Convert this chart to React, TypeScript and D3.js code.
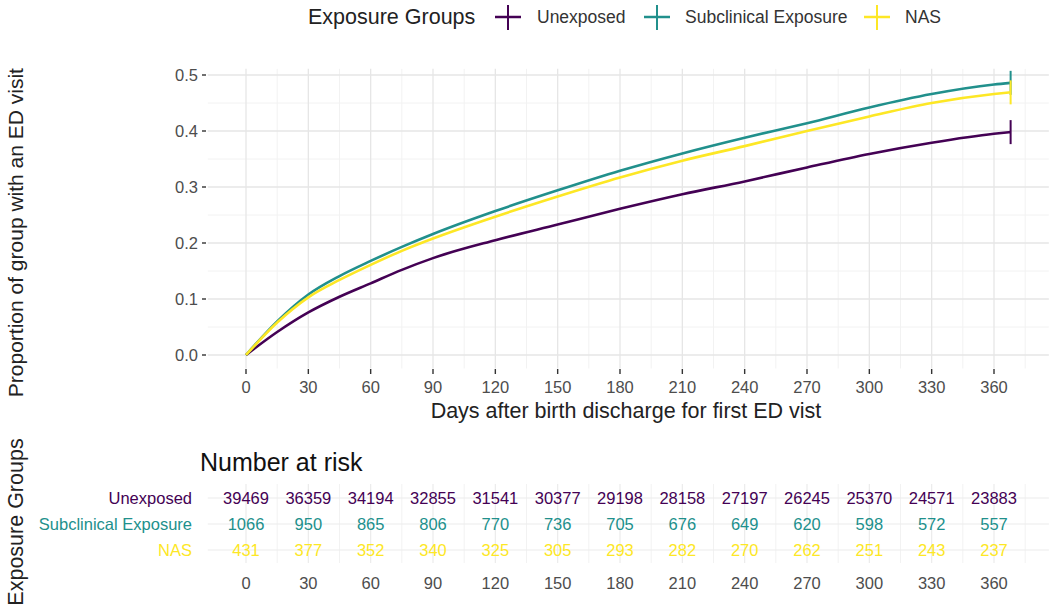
import React from "react";
import * as d3 from "d3";

const days = [0, 15, 30, 45, 60, 75, 90, 120, 150, 180, 210, 240, 270, 300, 330, 360, 368];
const unexposed = [0, 0.041, 0.076, 0.104, 0.128, 0.152, 0.173, 0.205, 0.233, 0.261, 0.287, 0.31, 0.335, 0.359, 0.379, 0.395, 0.398];
const subclinical = [0, 0.06, 0.108, 0.141, 0.168, 0.193, 0.216, 0.257, 0.294, 0.329, 0.36, 0.388, 0.414, 0.442, 0.466, 0.483, 0.486];
const nas = [0, 0.058, 0.103, 0.134, 0.161, 0.186, 0.208, 0.247, 0.283, 0.317, 0.347, 0.373, 0.4, 0.426, 0.45, 0.466, 0.469];

const groups = ["Unexposed", "Subclinical Exposure", "NAS"];
const colors = ["#440154", "#21908C", "#FDE725"];
const series = [unexposed, subclinical, nas];

const riskTicks = [0, 30, 60, 90, 120, 150, 180, 210, 240, 270, 300, 330, 360];
const riskUnexposed = [39469, 36359, 34194, 32855, 31541, 30377, 29198, 28158, 27197, 26245, 25370, 24571, 23883];
const riskSubclinical = [1066, 950, 865, 806, 770, 736, 705, 676, 649, 620, 598, 572, 557];
const riskNas = [431, 377, 352, 340, 325, 305, 293, 282, 270, 262, 251, 243, 237];
const riskRows = [riskUnexposed, riskSubclinical, riskNas];

const yTicks = [0, 0.1, 0.2, 0.3, 0.4, 0.5];
const maxDay = 368;

const FONT = "'Liberation Sans', Arial, Helvetica, sans-serif";

export default function App() {
  const x = d3.scaleLinear().domain([0, 360]).range([246, 994]);
  const y = d3.scaleLinear().domain([0, 0.5]).range([355, 75]);
  const left = x(-0.05 * maxDay);
  const right = x(maxDay * 1.05);
  const top = y(0.511);
  const bottom = y(-0.024);

  const minorX = d3.range(15, 390, 30);
  const minorY = [0.05, 0.15, 0.25, 0.35, 0.45];

  const line = d3
    .line<number>()
    .x((_, i) => x(days[i]))
    .y((d) => y(d))
    .curve(d3.curveMonotoneX);

  // risk table rows
  const rowY = d3.scalePoint<string>().domain(groups).range([498, 550]);
  const tTop = 484;
  const tBottom = 563;

  const legendItems = [
    { x: 508, tx: 537 },
    { x: 657, tx: 685 },
    { x: 877, tx: 905 },
  ];

  return (
    <svg
      width={1050}
      height={613}
      style={{ position: "absolute", left: 0, top: 0, background: "#fff" }}
      fontFamily={FONT}
    >
      {/* legend */}
      <text x={308} y={24} fontSize={21.5} fill="#222">
        Exposure Groups
      </text>
      {groups.map((g, i) => (
        <g key={g}>
          <line x1={legendItems[i].x - 13} x2={legendItems[i].x + 13} y1={17} y2={17} stroke={colors[i]} strokeWidth={2.5} />
          <line x1={legendItems[i].x} x2={legendItems[i].x} y1={5} y2={30} stroke={colors[i]} strokeWidth={2} />
          <text x={legendItems[i].tx} y={22.5} fontSize={17.5} fill="#333">
            {g}
          </text>
        </g>
      ))}

      {/* main panel grid */}
      {minorY.map((v) => (
        <line key={"my" + v} x1={left} x2={right} y1={y(v)} y2={y(v)} stroke="#f2f2f2" strokeWidth={1} />
      ))}
      {minorX.map((v) => (
        <line key={"mx" + v} x1={x(v)} x2={x(v)} y1={top} y2={bottom} stroke="#f2f2f2" strokeWidth={1} />
      ))}
      {yTicks.map((v) => (
        <line key={"gy" + v} x1={left} x2={right} y1={y(v)} y2={y(v)} stroke="#e6e6e6" strokeWidth={1.3} />
      ))}
      {riskTicks.map((v) => (
        <line key={"gx" + v} x1={x(v)} x2={x(v)} y1={top} y2={bottom} stroke="#e6e6e6" strokeWidth={1.3} />
      ))}

      {/* y axis */}
      {yTicks.map((v) => (
        <g key={"yt" + v}>
          <line x1={202} x2={206} y1={y(v)} y2={y(v)} stroke="#333" strokeWidth={1.4} />
          <text x={198} y={y(v)} dy="0.36em" textAnchor="end" fontSize={16.5} fill="#4d4d4d">
            {v.toFixed(1)}
          </text>
        </g>
      ))}
      <text
        transform={`translate(23,${(top + bottom) / 2 + 14}) rotate(-90)`}
        textAnchor="middle"
        fontSize={21}
        fill="#222"
      >
        Proportion of group with an ED visit
      </text>

      {/* x axis */}
      {riskTicks.map((v) => (
        <g key={"xt" + v}>
          <line x1={x(v)} x2={x(v)} y1={369} y2={374} stroke="#333" strokeWidth={1.4} />
          <text x={x(v)} y={393} textAnchor="middle" fontSize={16.5} fill="#4d4d4d">
            {v}
          </text>
        </g>
      ))}
      <text x={626} y={418} textAnchor="middle" fontSize={21.5} fill="#222">
        Days after birth discharge for first ED vist
      </text>

      {/* curves */}
      {series.map((s, i) => (
        <g key={"s" + i}>
          <path d={line(s) || ""} fill="none" stroke={colors[i]} strokeWidth={2.6} />
          <line
            x1={x(maxDay)}
            x2={x(maxDay)}
            y1={y(s[s.length - 1]) - 12}
            y2={y(s[s.length - 1]) + 12}
            stroke={colors[i]}
            strokeWidth={2}
          />
        </g>
      ))}

      {/* number at risk table */}
      <text x={200} y={471} fontSize={25} fill="#111">
        Number at risk
      </text>
      {minorX.map((v) => (
        <line key={"tmx" + v} x1={x(v)} x2={x(v)} y1={tTop} y2={tBottom} stroke="#f2f2f2" strokeWidth={1} />
      ))}
      {riskTicks.map((v) => (
        <line key={"tgx" + v} x1={x(v)} x2={x(v)} y1={tTop} y2={tBottom} stroke="#ebebeb" strokeWidth={1.2} />
      ))}
      {groups.map((g) => (
        <line key={"tgy" + g} x1={left} x2={right} y1={rowY(g)} y2={rowY(g)} stroke="#ebebeb" strokeWidth={1.2} />
      ))}
      {groups.map((g, i) => (
        <g key={"row" + g}>
          <text x={192} y={rowY(g)} dy="0.36em" textAnchor="end" fontSize={16.5} fill={colors[i]}>
            {g}
          </text>
          {riskRows[i].map((n, j) => (
            <text
              key={j}
              x={x(riskTicks[j])}
              y={rowY(g)}
              dy="0.36em"
              textAnchor="middle"
              fontSize={16.5}
              fill={colors[i]}
            >
              {n}
            </text>
          ))}
        </g>
      ))}
      {riskTicks.map((v) => (
        <text key={"tt" + v} x={x(v)} y={583} dy="0.36em" textAnchor="middle" fontSize={16.5} fill="#4d4d4d">
          {v}
        </text>
      ))}
      <text transform={`translate(23,522) rotate(-90)`} textAnchor="middle" fontSize={21.5} fill="#222">
        Exposure Groups
      </text>
    </svg>
  );
}
